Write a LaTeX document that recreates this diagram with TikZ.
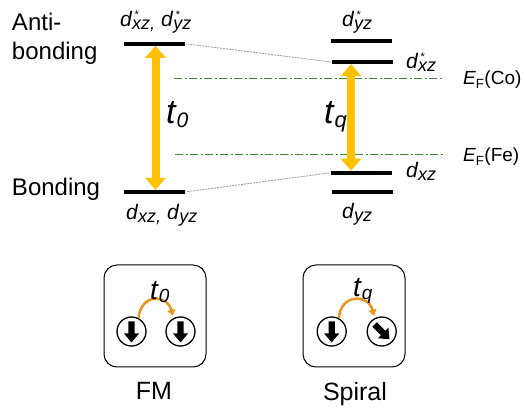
\documentclass[tikz,border=0pt]{standalone}
\usepackage{fontspec}
\setmainfont{Liberation Sans}
\usetikzlibrary{arrows.meta}
\definecolor{gold}{HTML}{FFC000}
\definecolor{efgreen}{HTML}{3C8C3C}
\definecolor{hopcol}{HTML}{E8961E}
\definecolor{conngray}{HTML}{A0A0A0}
\newcommand{\dlev}[2]{\textit{d}\makebox[0pt][l]{\hspace{2.5pt}\raisebox{8pt}{\fontsize{11}{11}\selectfont #1}}\raisebox{-3pt}{\fontsize{18}{18}\selectfont\textit{#2}}}
\newcommand{\hopt}[4]{{\fontsize{#1}{#1}\selectfont\textit{t}}\raisebox{-#3}{\fontsize{#2}{#2}\selectfont\textit{#4}}}
\begin{document}
\begin{tikzpicture}[x=1pt,y=-1pt,
  txt/.style={inner sep=0pt,outer sep=0pt},
  big/.style={txt,font=\fontsize{24}{28}\selectfont},
  dl/.style={txt,font=\fontsize{21}{24}\selectfont},
  ef/.style={txt,font=\fontsize{19}{22}\selectfont},
  lvl/.style={fill=black,minimum width=61pt,minimum height=4.3pt,inner sep=0pt,outer sep=0pt},
  conn/.style={draw=conngray,line width=0.9pt,dash pattern=on 2pt off 1pt},
  efline/.style={draw=efgreen,line width=0.9pt,dash pattern=on 8pt off 2.5pt on 2pt off 2.5pt},
  gap/.style={draw=gold,line width=8pt,{Triangle[width=20pt,length=12pt]}-{Triangle[width=20pt,length=12pt]}},
  panel/.style={draw,line width=1pt,rounded corners=13pt,minimum width=102pt,minimum height=102pt,inner sep=0pt},
  site/.style={draw,circle,line width=1.3pt,minimum size=29pt,inner sep=0pt},
  hoparrow/.style={draw=hopcol,line width=2.5pt,-{Triangle[width=8pt,length=6pt]},shorten >=2.5pt},
  spin/.pic={\fill[black] (-3.2,-10) -- (3.2,-10) -- (3.2,2) -- (7.5,2) -- (0,11) -- (-7.5,2) -- (-3.2,2) -- cycle;}
]
\useasboundingbox (0,0) rectangle (525,411);

% energy levels
\node[lvl] (LA) at (154,43.7) {};
\node[lvl] (LB) at (154,192) {};
\node[lvl] (RAyz) at (361,41.2) {};
\node[lvl] (RAxz) at (362,62) {};
\node[lvl] (RBxz) at (361,172.8) {};
\node[lvl] (RByz) at (362,192.3) {};

% connectors between levels
\draw[conn] (LA.east) -- (RAxz.west);
\draw[conn] (LB.east) -- (RBxz.west);

% Fermi levels
\coordinate (coL) at (174,78.3);
\coordinate (coR) at (442,78.3);
\coordinate (feL) at (175,154);
\coordinate (feR) at (443,154);
\draw[efline] (coL) -- (coR);
\draw[efline] (feL) -- (feR);

% gap arrows
\draw[gap] ([xshift=1.5pt]LA.south) -- ([xshift=1.5pt]LB.north);
\draw[gap] ([xshift=-11pt]RAxz.south) -- ([xshift=-10pt]RBxz.north);

% text
\node[big,anchor=base west] (anti) at (12,31) {Anti-};
\node[big,anchor=base west] (bond1) at (12,59.5) {bonding};
\node[big,anchor=base west] (bond2) at (12,196) {Bonding};

\node[dl,anchor=base west] (lA) at (120,26.5) {\dlev{*}{xz,} \dlev{*}{yz}};
\node[dl,anchor=base west] (lB) at (126,219.5) {\dlev{}{xz,} \dlev{}{yz}};
\node[dl,anchor=base west] (lRAyz) at (342,26.5) {\dlev{*}{yz}};
\node[dl,anchor=base west] (lRAxz) at (406,69) {\dlev{*}{xz}};
\node[dl,anchor=base west] (lRBxz) at (406,178) {\dlev{}{xz}};
\node[dl,anchor=base west] (lRByz) at (342,219) {\dlev{}{yz}};

\node[txt,anchor=base west] (t0) at (166,124) {\hopt{34}{21}{4pt}{0}};
\node[txt,anchor=base west] (tq) at (324,124) {\hopt{34}{22}{3.5pt}{q}};

\node[ef,anchor=base west] (efco) at (463,85) {\textit{E}\textsubscript{F}(Co)};
\node[ef,anchor=base west] (effe) at (463,162) {\textit{E}\textsubscript{F}(Fe)};

% FM panel
\node[panel] (fmbox) at (155,316) {};
\node[site] (f1) at (131.5,331.5) {};
\node[site] (f2) at (180.5,331.5) {};
\pic at (f1) {spin};
\pic at (f2) {spin};
\draw[hoparrow] (f1.62) .. controls +(2,-25) and +(-6,-24) .. (f2.118);
\node[txt,anchor=base west] (ft) at (150,300) {\hopt{28}{19}{3pt}{0}};
\node[txt,anchor=base,font=\fontsize{25}{28}\selectfont] (fmlab) at (154,400) {FM};

% Spiral panel
\node[panel] (spbox) at (354,316) {};
\node[site] (s1) at (331.7,331.5) {};
\node[site] (s2) at (381.7,331.5) {};
\pic at (s1) {spin};
\pic[rotate=45] at (s2) {spin};
\draw[hoparrow] (s1.62) .. controls +(2,-25) and +(-6,-24) .. (s2.118);
\node[txt,anchor=base west] (st) at (353,297) {\hopt{28}{19}{3pt}{q}};
\node[txt,anchor=base,font=\fontsize{25}{28}\selectfont] (splab) at (355,401) {Spiral};
\end{tikzpicture}
\end{document}
